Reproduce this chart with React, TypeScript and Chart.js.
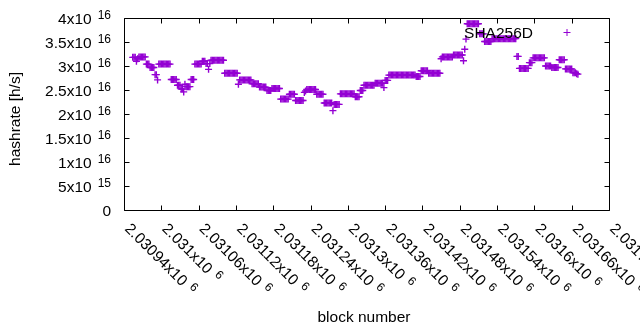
import React, { useEffect, useRef } from "react";
import { Chart, registerables } from "chart.js";

Chart.register(...registerables);

// block numbers: consecutive blocks sampled every 2 blocks
const blockStart = 2030954;
const blockStep = 2;

// hashrate in units of 1e16 h/s
const hashrate = [
  3.18, 3.18, 3.18, 3.10, 3.15, 3.19, 3.19, 3.19, 3.19, 3.19,
  3.19, 3.04, 3.04, 3.04, 2.97, 2.97, 2.97, 2.97, 2.82, 2.82,
  2.71, 3.04, 3.04, 3.04, 3.04, 3.04, 3.04, 3.04, 3.04, 3.04,
  3.04, 2.72, 2.72, 2.72, 2.72, 2.72, 2.60, 2.60, 2.60, 2.52,
  2.52, 2.46, 2.62, 2.57, 2.57, 2.57, 2.57, 2.72, 2.72, 2.72,
  3.04, 3.04, 3.04, 3.04, 3.04, 3.04, 3.10, 3.10, 3.10, 3.05,
  3.05, 2.93, 3.05, 3.12, 3.12, 3.12, 3.12, 3.12, 3.12, 3.12,
  3.12, 3.12, 3.12, 3.12, 2.85, 2.85, 2.85, 2.85, 2.85, 2.85,
  2.85, 2.85, 2.85, 2.85, 2.85, 2.62, 2.71, 2.71, 2.71, 2.71,
  2.71, 2.71, 2.71, 2.71, 2.71, 2.71, 2.63, 2.63, 2.63, 2.63,
  2.63, 2.63, 2.56, 2.56, 2.56, 2.56, 2.56, 2.56, 2.49, 2.49,
  2.49, 2.49, 2.53, 2.53, 2.53, 2.53, 2.53, 2.53, 2.53, 2.31,
  2.31, 2.31, 2.31, 2.31, 2.31, 2.31, 2.41, 2.41, 2.41, 2.41,
  2.41, 2.28, 2.28, 2.28, 2.28, 2.28, 2.28, 2.28, 2.45, 2.48,
  2.51, 2.51, 2.51, 2.51, 2.51, 2.51, 2.51, 2.51, 2.41, 2.41,
  2.41, 2.41, 2.41, 2.41, 2.23, 2.23, 2.23, 2.23, 2.23, 2.23,
  2.23, 2.07, 2.20, 2.20, 2.20, 2.20, 2.20, 2.42, 2.42, 2.42,
  2.42, 2.42, 2.42, 2.42, 2.42, 2.42, 2.42, 2.42, 2.42, 2.36,
  2.36, 2.36, 2.36, 2.49, 2.49, 2.49, 2.60, 2.60, 2.60, 2.60,
  2.60, 2.60, 2.60, 2.60, 2.60, 2.64, 2.64, 2.64, 2.64, 2.64,
  2.64, 2.64, 2.55, 2.70, 2.70, 2.70, 2.81, 2.81, 2.81, 2.81,
  2.81, 2.81, 2.81, 2.81, 2.81, 2.81, 2.81, 2.81, 2.81, 2.81,
  2.81, 2.81, 2.81, 2.81, 2.81, 2.81, 2.81, 2.81, 2.78, 2.78,
  2.78, 2.78, 2.90, 2.90, 2.90, 2.90, 2.90, 2.90, 2.85, 2.85,
  2.85, 2.85, 2.85, 2.85, 2.85, 2.85, 2.85, 2.85, 3.15, 3.19,
  3.19, 3.19, 3.19, 3.19, 3.19, 3.19, 3.19, 3.19, 3.23, 3.23,
  3.23, 3.23, 3.23, 3.23, 3.23, 3.23, 3.11, 3.35, 3.56, 3.88,
  3.88, 3.88, 3.88, 3.88, 3.88, 3.88, 3.88, 3.88, 3.88, 3.67,
  3.67, 3.67, 3.67, 3.51, 3.51, 3.51, 3.51, 3.51, 3.51, 3.57,
  3.57, 3.57, 3.57, 3.57, 3.57, 3.57, 3.57, 3.57, 3.57, 3.57,
  3.57, 3.57, 3.57, 3.57, 3.57, 3.57, 3.57, 3.57, 3.57, 3.20,
  3.20, 2.95, 2.95, 2.95, 2.95, 2.95, 2.95, 2.95, 2.95, 3.07,
  3.07, 3.07, 3.17, 3.17, 3.17, 3.17, 3.17, 3.17, 3.17, 3.17,
  3.17, 3.17, 3.00, 3.00, 3.00, 3.00, 3.00, 2.97, 2.97, 2.97,
  2.97, 2.97, 2.97, 3.13, 3.13, 3.13, 3.13, 3.13, 2.94, 2.94,
  2.94, 2.94, 2.94, 2.94, 2.86, 2.86, 2.86, 2.84, 2.83,
];

const blocks = hashrate.map((_, i) => blockStart + i * blockStep);

const seriesLabel = "SHA256D";
const xTitle = "block number";
const yTitle = "hashrate [h/s]";

const xMin = 2030940;
const xMax = 2031720;
const xTicks = [
  2030940, 2031000, 2031060, 2031120, 2031180, 2031240, 2031300,
  2031360, 2031420, 2031480, 2031540, 2031600, 2031660, 2031720,
];
const xTickMain = [
  "2.03094x10", "2.031x10", "2.03106x10", "2.03112x10", "2.03118x10",
  "2.03124x10", "2.0313x10", "2.03136x10", "2.03142x10", "2.03148x10",
  "2.03154x10", "2.0316x10", "2.03166x10", "2.03172x10",
];
const xTickSup = "6";

const yTicks = [0, 0.5, 1, 1.5, 2, 2.5, 3, 3.5, 4];
const yTickMain = ["0", "5x10", "1x10", "1.5x10", "2x10", "2.5x10", "3x10", "3.5x10", "4x10"];
const yTickSup = ["", "15", "16", "16", "16", "16", "16", "16", "16"];

const COLOR = "#9400D3";
const FAMILY = "'Liberation Sans', Arial, sans-serif";
const MAIN = `15.5px ${FAMILY}`;
const SUP = `12px ${FAMILY}`;
const SUP_GAP = 6;
const SUP_RAISE = 5;
const TICK_LEN = 5;

const gnuplotFrame = {
  id: "gnuplotFrame",
  afterDraw(chart: any) {
    const ctx: CanvasRenderingContext2D = chart.ctx;
    const { left, right, top, bottom } = chart.chartArea;
    const xs = chart.scales.x;
    const ys = chart.scales.y;
    const L = Math.round(left) + 0.5;
    const R = Math.round(right) + 0.5;
    const T = Math.round(top) + 0.5;
    const B = Math.round(bottom) + 0.5;
    ctx.save();
    ctx.strokeStyle = "#000";
    ctx.lineWidth = 1;
    ctx.beginPath();
    ctx.rect(L, T, R - L, B - T);
    xTicks.forEach((v) => {
      const px = Math.round(xs.getPixelForValue(v)) + 0.5;
      ctx.moveTo(px, B);
      ctx.lineTo(px, B - TICK_LEN);
      ctx.moveTo(px, T);
      ctx.lineTo(px, T + TICK_LEN);
    });
    yTicks.forEach((v) => {
      const py = Math.round(ys.getPixelForValue(v)) + 0.5;
      ctx.moveTo(L, py);
      ctx.lineTo(L + TICK_LEN, py);
      ctx.moveTo(R, py);
      ctx.lineTo(R - TICK_LEN, py);
    });
    ctx.stroke();

    ctx.fillStyle = "#000";
    ctx.textAlign = "left";
    ctx.textBaseline = "alphabetic";

    // y tick labels
    yTicks.forEach((v, i) => {
      const py = ys.getPixelForValue(v);
      ctx.font = MAIN;
      const main = yTickMain[i];
      const mw = ctx.measureText(main).width;
      const sup = yTickSup[i];
      let sw = 0;
      if (sup) {
        ctx.font = SUP;
        sw = ctx.measureText(sup).width + SUP_GAP;
      }
      const x0 = 111 - (mw + sw);
      ctx.font = MAIN;
      ctx.fillText(main, x0, py + 5.5);
      if (sup) {
        ctx.font = SUP;
        ctx.fillText(sup, x0 + mw + SUP_GAP, py + 5.5 - SUP_RAISE);
      }
    });

    // x tick labels, rotated by -45 (clockwise)
    xTicks.forEach((v, i) => {
      const px = xs.getPixelForValue(v);
      ctx.save();
      ctx.translate(px, 229.5);
      ctx.rotate(Math.PI / 4);
      ctx.font = MAIN;
      const main = xTickMain[i];
      const mw = ctx.measureText(main).width;
      ctx.fillText(main, 0, 0);
      ctx.font = SUP;
      ctx.fillText(xTickSup, mw + SUP_GAP, -SUP_RAISE);
      ctx.restore();
    });

    // axis titles
    ctx.font = MAIN;
    ctx.textAlign = "center";
    ctx.fillText(xTitle, 364, 321.5);
    ctx.save();
    ctx.translate(16, 119);
    ctx.rotate(-Math.PI / 2);
    ctx.textBaseline = "middle";
    ctx.fillText(yTitle, 0, 0);
    ctx.restore();

    // key
    ctx.textAlign = "right";
    ctx.textBaseline = "alphabetic";
    ctx.fillText(seriesLabel, 533, 37.5);
    ctx.strokeStyle = COLOR;
    ctx.beginPath();
    ctx.moveTo(563.5, 32.5);
    ctx.lineTo(570.5, 32.5);
    ctx.moveTo(567, 29);
    ctx.lineTo(567, 36);
    ctx.stroke();
    ctx.restore();
  },
};

export default function App() {
  const ref = useRef<HTMLCanvasElement | null>(null);
  useEffect(() => {
    if (!ref.current) return;
    const chart = new Chart(ref.current, {
      type: "scatter",
      data: {
        datasets: [
          {
            label: seriesLabel,
            data: blocks.map((b, i) => ({ x: b, y: hashrate[i] })),
            pointStyle: "cross",
            pointRadius: 3.5,
            pointHoverRadius: 3.5,
            borderColor: COLOR,
            backgroundColor: COLOR,
            borderWidth: 1.4,
          },
        ],
      },
      options: {
        responsive: false,
        animation: false,
        events: [],
        layout: { padding: { left: 124, right: 31, top: 18, bottom: 120 } },
        plugins: { legend: { display: false }, tooltip: { enabled: false } },
        scales: {
          x: { type: "linear", min: xMin, max: xMax, display: false },
          y: { type: "linear", min: 0, max: 4, display: false },
        },
      },
      plugins: [gnuplotFrame],
    } as any);
    return () => chart.destroy();
  }, []);
  return (
    <div style={{ position: "absolute", left: 0, top: 0, width: 640, height: 330, background: "#fff" }}>
      <canvas ref={ref} width={640} height={330} style={{ display: "block" }} />
    </div>
  );
}
